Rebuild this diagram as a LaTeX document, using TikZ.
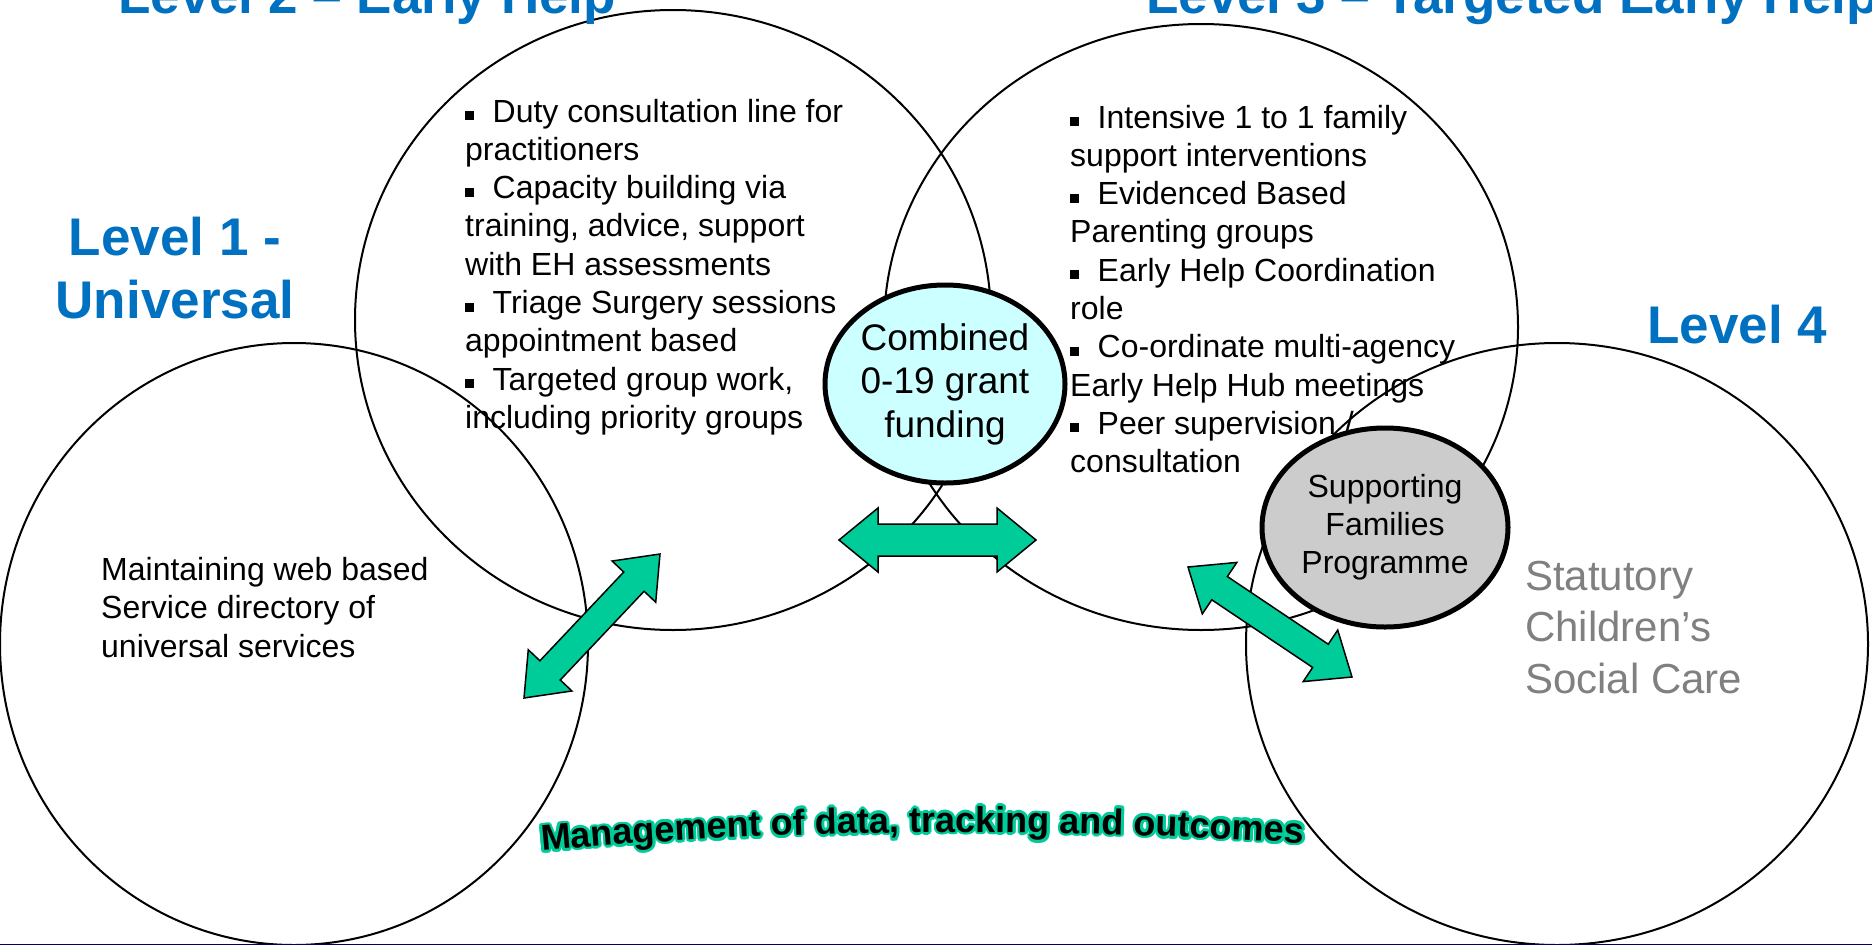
\documentclass[tikz,border=0pt]{standalone}
\usepackage{fontspec}
\setmainfont{Liberation Sans}
\usetikzlibrary{shapes.geometric,calc,decorations.text}
\definecolor{lvlblue}{RGB}{0,112,192}
\definecolor{arrgreen}{RGB}{0,204,153}
\definecolor{cyanfill}{RGB}{204,255,255}
\definecolor{grayfill}{RGB}{204,204,204}
\definecolor{navyline}{RGB}{0,0,102}
\definecolor{statgray}{RGB}{128,128,128}
\newcommand\leftlines[2]{\vtop{\baselineskip=#1\relax\lineskiplimit=-1000pt\lineskip=0pt\halign{##\hfil\cr#2\crcr}}}
\newcommand\ctrlines[2]{\vtop{\baselineskip=#1\relax\lineskiplimit=-1000pt\lineskip=0pt\halign{\hfil##\hfil\cr#2\crcr}}}
\newcommand\bul{\raisebox{2pt}{\rule{8.5pt}{9pt}}\hspace{19pt}}
\newcommand\mgfont{\fontsize{36pt}{40pt}\selectfont\bfseries}
\newcommand\dblarrow[5]{%
 \filldraw[blockarrow] (#1) -- ($(#1)!#3!(#2)!#4!90:(#2)$) -- ($(#1)!#3!(#2)!#5!90:(#2)$)
  -- ($(#2)!#3!(#1)!#5!-90:(#1)$) -- ($(#2)!#3!(#1)!#4!-90:(#1)$) -- (#2)
  -- ($(#2)!#3!(#1)!#4!90:(#1)$) -- ($(#2)!#3!(#1)!#5!90:(#1)$)
  -- ($(#1)!#3!(#2)!#5!-90:(#2)$) -- ($(#1)!#3!(#2)!#4!-90:(#2)$) -- cycle;}
\tikzset{
 lvl/.style={ellipse, draw=black, line width=2pt, inner sep=0pt},
 hub/.style={ellipse, draw=black, line width=5pt, inner sep=0pt, font=\fontsize{32pt}{38pt}\selectfont},
 lvltitle/.style={inner sep=0pt, text=lvlblue, font=\fontsize{53pt}{63pt}\selectfont\bfseries},
 bodytext/.style={inner sep=0pt, font=\fontsize{32pt}{38.3pt}\selectfont},
 blockarrow/.style={fill=arrgreen, draw=black, line width=1.5pt, line join=miter},
}
\begin{document}
\begin{tikzpicture}[x=1pt,y=-1pt]
\useasboundingbox (0,0) rectangle (1872,945);
\fill[white] (0,0) rectangle (1872,945);
% level ellipses
\node[lvl, minimum width=588pt, minimum height=602pt] (L1) at (294,644) {};
\node[lvl, minimum width=636pt, minimum height=620pt] (L2) at (673,320) {};
\node[lvl, minimum width=634pt, minimum height=606pt] (L3) at (1201,327) {};
\node[lvl, minimum width=622pt, minimum height=602pt] (L4) at (1557,644) {};
% titles
\node[lvltitle, anchor=base west] (t2) at (118,13) {Level 2 – Early Help};
\node[lvltitle, anchor=base west] (t3) at (1146,13) {Level 3 – Targeted Early Help};
\node[lvltitle, anchor=base] (t1) at (175,255) {\ctrlines{63pt}{Level 1 -\cr Universal}};
\node[lvltitle, anchor=base west] (t4) at (1647,343) {Level 4};
% body texts
\node[bodytext, anchor=base west] (b2) at (465,122) {\leftlines{38.3pt}{\bul Duty consultation line for\cr practitioners\cr \bul Capacity building via\cr training, advice, support\cr with EH assessments\cr \bul Triage Surgery sessions\cr appointment based\cr \bul Targeted group work,\cr including priority groups}};
\node[bodytext, anchor=base west] (b3) at (1070,128) {\leftlines{38.3pt}{\bul Intensive 1 to 1 family\cr support interventions\cr \bul Evidenced Based\cr Parenting groups\cr \bul Early Help Coordination\cr role\cr \bul Co-ordinate multi-agency\cr Early Help Hub meetings\cr \bul Peer supervision /\cr consultation}};
\node[bodytext, anchor=base west] (b1) at (101,580) {\leftlines{38.5pt}{Maintaining web based\cr Service directory of\cr universal services}};
\node[bodytext, anchor=base west, text=statgray, font=\fontsize{42pt}{51.5pt}\selectfont] (b4) at (1525,590) {\leftlines{51.5pt}{Statutory\cr Children’s\cr Social Care}};
% hubs
\node[hub, fill=cyanfill, minimum width=240pt, minimum height=198pt, font=\fontsize{37pt}{43pt}\selectfont] (comb) at (945,384) {\ctrlines{43.5pt}{Combined\cr 0-19 grant\cr funding}};
\node[hub, fill=grayfill, minimum width=246pt, minimum height=199pt] (sfp) at (1385,527.5) {\ctrlines{38pt}{Supporting\cr Families\cr Programme}};
% arrows
\coordinate (a1s) at (524,698);
\coordinate (a1e) at (660,554);
\coordinate (a2s) at (839,540);
\coordinate (a2e) at (1036,540);
\coordinate (a3s) at (1188,567);
\coordinate (a3e) at (1352,677);
\dblarrow{a1s}{a1e}{38pt}{30pt}{14pt}
\dblarrow{a2s}{a2e}{39pt}{32pt}{16pt}
\dblarrow{a3s}{a3e}{38pt}{31pt}{14pt}
% management text
\foreach \a in {0,30,...,330} {
 \path[shift={(\a:2.6pt)}, decorate, decoration={text along path, text format delimiters={|}{|}, text={|\mgfont|Management of data, tracking and outcomes}, text color=arrgreen, text align=left}]
  (542,851) .. controls (800,827) and (1070,827) .. (1345,846);
}
\path[decorate, decoration={text along path, text format delimiters={|}{|}, text={|\mgfont|Management of data, tracking and outcomes}, text color=black, text align=left}]
  (542,851) .. controls (800,827) and (1070,827) .. (1345,846);
% bottom line
\draw[navyline, line width=2pt] (0,944.5) -- (1872,944.5);
\end{tikzpicture}
\end{document}
